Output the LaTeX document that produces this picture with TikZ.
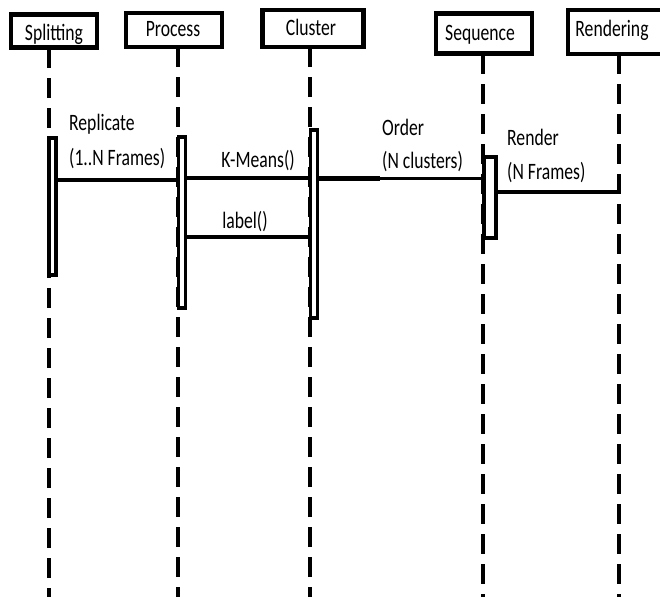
\documentclass[tikz,border=0pt]{standalone}
\usepackage{fontspec}
\setmainfont{Carlito}
\newcommand{\tx}[1]{\scalebox{0.75}[1]{#1}}
\begin{document}
\begin{tikzpicture}[x=1pt,y=-1pt,
  obj/.style={draw,line width=4.4pt,inner sep=0pt,fill=white},
  objtxt/.style={font=\fontsize{23.5}{26}\selectfont,inner sep=0pt},
  life/.style={line width=3.3pt,dash pattern=on 20pt off 10pt},
  actbar/.style={draw,line width=3.2pt,inner sep=0pt,minimum width=7pt,fill=white},
  msg/.style={line width=3.2pt},
  lbl/.style={font=\fontsize{23.5}{26}\selectfont,inner sep=0pt,anchor=base west},
  clbl/.style={font=\fontsize{23.5}{26}\selectfont,inner sep=0pt,anchor=base}]
\useasboundingbox (0,0) rectangle (660,597);
% objects
\node[obj,minimum width=86pt,minimum height=33pt] (oS) at (54,31) {};
\node[obj,minimum width=96pt,minimum height=34pt] (oP) at (174,30) {};
\node[obj,minimum width=101pt,minimum height=37pt] (oC) at (313,28.5) {};
\node[obj,minimum width=96pt,minimum height=40pt] (oQ) at (484,33.5) {};
\node[obj,minimum width=96pt,minimum height=44pt] (oR) at (616,32) {};
\node[objtxt,anchor=base] (tS) at (54,40) {\tx{Splitting}};
\node[objtxt,anchor=base] (tP) at (173,36) {\tx{Process}};
\node[objtxt,anchor=base] (tC) at (311,35) {\tx{Cluster}};
\node[objtxt,anchor=base] (tQ) at (480,40) {\tx{Sequence}};
\node[objtxt,anchor=base] (tR) at (612,36) {\tx{Rendering}};
% lifeline ends
\coordinate (eS) at (49,597);
\coordinate (eP) at (178,597);
\coordinate (eC) at (310,597);
\coordinate (eQ) at (483,597);
\coordinate (eR) at (619,597);
\draw[life] (49,48) -- (eS);
\draw[life] (178,47) -- (eP);
\draw[life] (310,47) -- (eC);
\draw[life] (483,54) -- (eQ);
\draw[life] (619,54) -- (eR);
% activation bars
\node[actbar,minimum height=137pt] (aS) at (52.5,206.5) {};
\node[actbar,minimum height=171pt] (aP) at (182,222.5) {};
\node[actbar,minimum height=188pt] (aC) at (314,224) {};
\node[actbar,minimum width=12pt,minimum height=81pt] (aQ) at (490,197.5) {};
% message levels
\coordinate (m1) at (0,180);
\coordinate (m2) at (0,178);
\coordinate (m3) at (0,237);
\coordinate (m4) at (0,178.5);
\coordinate (m5) at (0,192);
\coordinate (rEnd) at (619,192);
\coordinate (oThick) at (380,178.5);
\draw[msg] (aS.east |- m1) -- (aP.west |- m1);
\draw[msg] (aP.east |- m2) -- (aC.west |- m2);
\draw[msg] (aP.east |- m3) -- (aC.west |- m3);
\draw[line width=2.6pt] (aC.east |- m4) -- (aQ.west |- m4);
\draw[line width=4.4pt] (aC.east |- m4) -- (oThick);
\draw[msg] (aQ.east |- m5) -- (rEnd);
% labels
\node[lbl] (tRep1) at (69,130) {\tx{Replicate}};
\node[lbl] (tRep2) at (69,165) {\tx{(1..N Frames)}};
\node[clbl] (tKM) at (258,167) {\tx{K-Means()}};
\node[clbl] (tLb) at (245,228) {\tx{label()}};
\node[lbl] (tOrd1) at (382,135) {\tx{Order}};
\node[lbl] (tOrd2) at (382,168) {\tx{(N clusters)}};
\node[lbl] (tRen1) at (507,145) {\tx{Render}};
\node[lbl] (tRen2) at (507,179) {\tx{(N Frames)}};
\end{tikzpicture}
\end{document}
